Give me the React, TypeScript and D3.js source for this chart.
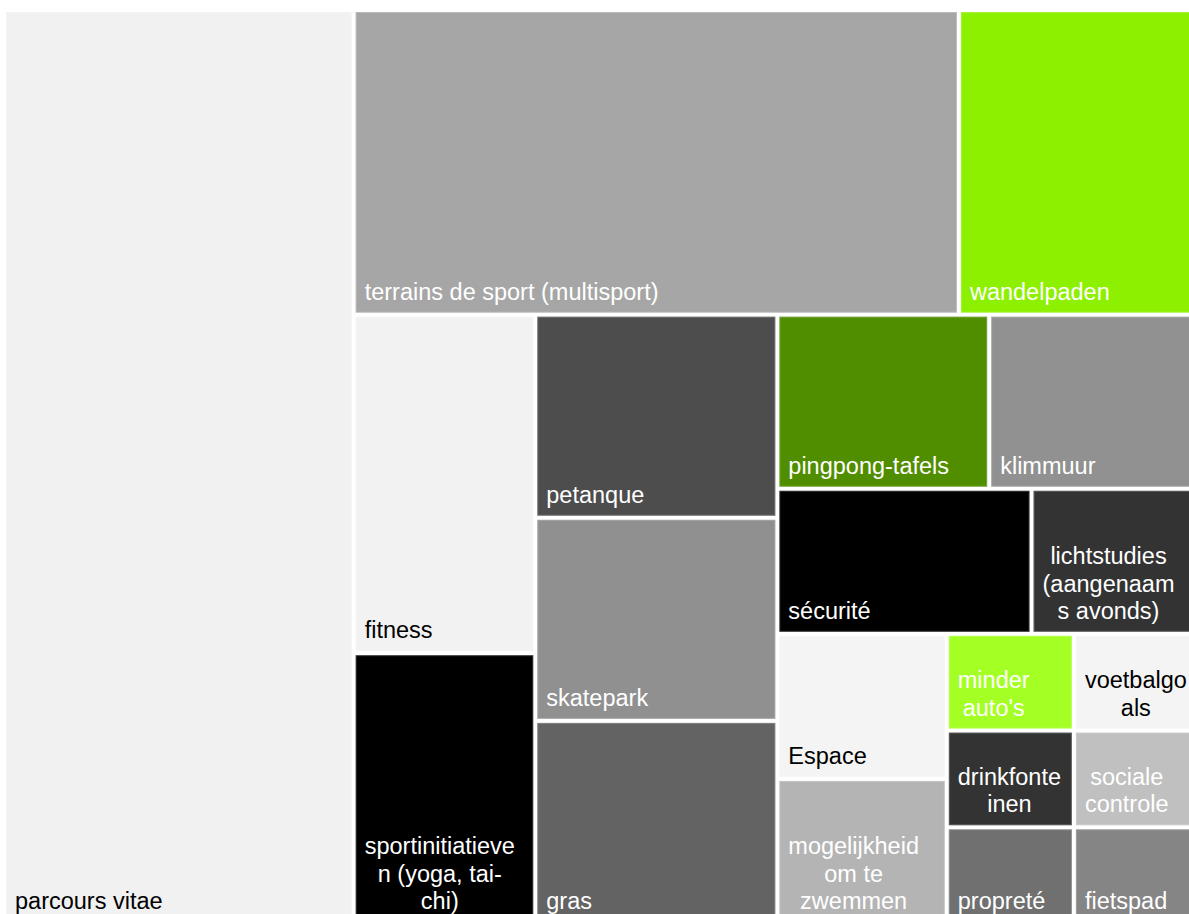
import React, { useEffect, useRef } from "react";
import * as d3 from "d3";

// ---- data ----
const names = [
  "parcours vitae",
  "terrains de sport (multisport)",
  "wandelpaden",
  "fitness",
  "sportinitiatieven (yoga, tai-chi)",
  "petanque",
  "skatepark",
  "gras",
  "pingpong-tafels",
  "klimmuur",
  "sécurité",
  "lichtstudies (aangenaams avonds)",
  "Espace",
  "mogelijkheid om te zwemmen",
  "minder auto's",
  "voetbalgoals",
  "drinkfonteinen",
  "sociale controle",
  "propreté",
  "fietspad",
];

const counts = [26, 15, 6, 5, 4, 4, 4, 4, 3, 3, 3, 2, 2, 2, 1, 1, 1, 1, 1, 1];

const labelLines = [
  ["parcours vitae"],
  ["terrains de sport (multisport)"],
  ["wandelpaden"],
  ["fitness"],
  ["sportinitiatieve", "n (yoga, tai-", "chi)"],
  ["petanque"],
  ["skatepark"],
  ["gras"],
  ["pingpong-tafels"],
  ["klimmuur"],
  ["sécurité"],
  ["lichtstudies", "(aangenaam", "s avonds)"],
  ["Espace"],
  ["mogelijkheid", "om te", "zwemmen"],
  ["minder", "auto's"],
  ["voetbalgo", "als"],
  ["drinkfonte", "inen"],
  ["sociale", "controle"],
  ["propreté"],
  ["fietspad"],
];

const fills = [
  "#f1f1f1",
  "#a6a6a6",
  "#8df000",
  "#f2f2f2",
  "#000000",
  "#4d4d4d",
  "#909090",
  "#636363",
  "#508e00",
  "#919191",
  "#000000",
  "#333333",
  "#f4f4f4",
  "#b4b4b4",
  "#a4ff24",
  "#f4f4f4",
  "#333333",
  "#c0c0c0",
  "#707070",
  "#858585",
];

const textColors = [
  "#000000", "#ffffff", "#ffffff", "#000000", "#ffffff",
  "#ffffff", "#ffffff", "#ffffff", "#ffffff", "#ffffff",
  "#ffffff", "#ffffff", "#000000", "#ffffff", "#ffffff",
  "#000000", "#ffffff", "#ffffff", "#ffffff", "#ffffff",
];

// nesting of the tiles (indices into the arrays above)
const groups: any = [
  0,
  [
    [1, 2],
    [
      [3, 4],
      [5, 6, 7],
      [[8, 9], [10, 11], [[12, 13], [[14, 15], [16, 17], [18, 19]]]],
    ],
  ],
];

const W = 1189;
const H = 914;
const FONT = "'Liberation Sans', Arial, Helvetica, sans-serif";
const FS = 23.5;
const LH = 27.3;

function toNode(g: any): any {
  return Array.isArray(g) ? { children: g.map(toNode) } : { index: g };
}

export default function App() {
  const ref = useRef<SVGSVGElement | null>(null);

  useEffect(() => {
    const svg = d3.select(ref.current);
    svg.selectAll("*").remove();

    const root = d3
      .hierarchy(toNode(groups))
      .sum((d: any) => (d.index !== undefined ? counts[d.index] : 0));

    d3.treemap().tile(d3.treemapSliceDice).size([1193, 910]).paddingInner(4)(root as any);

    const g = svg.append("g").attr("transform", "translate(6,12)");
    const leaves = root.leaves() as any[];

    const cell = g
      .selectAll("g.cell")
      .data(leaves)
      .join("g")
      .attr("class", "cell");

    cell
      .append("rect")
      .attr("x", (d) => d.x0)
      .attr("y", (d) => d.y0)
      .attr("width", (d) => Math.max(0, d.x1 - d.x0))
      .attr("height", (d) => Math.max(0, d.y1 - d.y0))
      .attr("fill", (d) => fills[d.data.index]);

    cell
      .append("rect")
      .attr("x", (d) => d.x0 + 0.5)
      .attr("y", (d) => d.y0 + 0.5)
      .attr("width", (d) => Math.max(0, d.x1 - d.x0 - 1))
      .attr("height", (d) => Math.max(0, d.y1 - d.y0 - 1))
      .attr("fill", "none")
      .attr("stroke", "#ffffff")
      .attr("stroke-opacity", 0.22)
      .attr("stroke-width", 1);

    cell.each(function (d: any) {
      const lines = labelLines[d.data.index];
      const text = d3
        .select(this)
        .append("text")
        .attr("font-family", FONT)
        .attr("font-size", FS)
        .attr("fill", textColors[d.data.index])
        .attr("aria-label", names[d.data.index]);
      const n = lines.length;
      const baseY = d.y1 - 13;
      const spans = lines.map((line: string, i: number) =>
        text
          .append("tspan")
          .attr("x", d.x0 + 9)
          .attr("y", baseY - (n - 1 - i) * LH)
          .text(line)
      );
      if (n > 1) {
        const widths = spans.map((s: any) => (s.node() as SVGTSpanElement).getComputedTextLength());
        const maxW = Math.max(...widths);
        spans.forEach((s: any, i: number) => {
          s.attr("x", d.x0 + 9 + (maxW - widths[i]) / 2);
        });
      }
    });
  }, []);

  return (
    <svg
      ref={ref}
      width={W}
      height={H}
      style={{ position: "absolute", left: 0, top: 0, background: "#ffffff", display: "block" }}
    />
  );
}
